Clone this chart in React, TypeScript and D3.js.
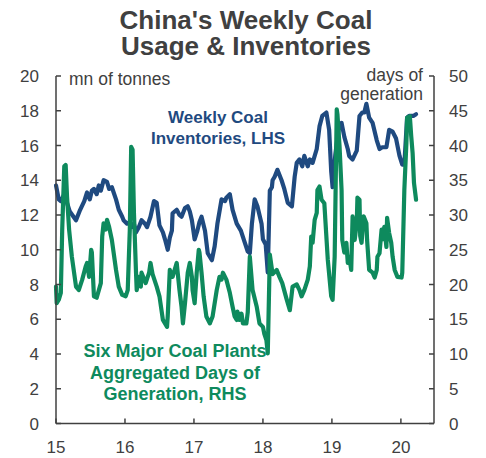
import React from "react";
import * as d3 from "d3";

const invDates = [2015.00,2015.04,2015.07,2015.12,2015.20,2015.29,2015.35,2015.41,2015.45,2015.49,2015.52,2015.55,2015.59,2015.62,2015.65,2015.69,2015.74,2015.77,2015.81,2015.87,2015.91,2015.96,2015.98,2016.03,2016.07,2016.10,2016.13,2016.16,2016.20,2016.24,2016.29,2016.32,2016.37,2016.42,2016.46,2016.50,2016.55,2016.58,2016.62,2016.65,2016.68,2016.69,2016.75,2016.79,2016.82,2016.87,2016.91,2016.94,2016.97,2017.01,2017.05,2017.08,2017.11,2017.16,2017.20,2017.26,2017.30,2017.34,2017.40,2017.45,2017.47,2017.52,2017.56,2017.62,2017.68,2017.73,2017.78,2017.81,2017.84,2017.88,2017.92,2017.98,2018.00,2018.04,2018.07,2018.10,2018.13,2018.14,2018.17,2018.21,2018.27,2018.31,2018.36,2018.42,2018.46,2018.49,2018.53,2018.57,2018.60,2018.65,2018.68,2018.72,2018.78,2018.82,2018.86,2018.92,2018.96,2018.99,2019.01,2019.05,2019.10,2019.14,2019.18,2019.23,2019.25,2019.30,2019.36,2019.40,2019.44,2019.47,2019.50,2019.54,2019.59,2019.65,2019.69,2019.73,2019.79,2019.83,2019.88,2019.93,2019.98,2020.02,2020.05,2020.09,2020.12,2020.18,2020.22];
const invValues = [13.7,12.9,12.8,13.2,12.2,11.7,12.3,12.8,13.3,12.9,13.4,13.5,13.2,13.7,13.4,14.0,13.9,13.5,13.6,12.9,12.3,11.9,11.7,11.5,11.6,11.3,11.5,11.0,11.3,11.7,11.5,11.3,11.9,12.8,12.7,11.4,11.0,10.6,10.0,10.7,11.1,12.1,12.3,12.0,11.9,12.4,12.5,12.2,11.7,10.6,11.1,11.6,11.9,11.1,9.8,9.4,10.2,11.5,12.9,12.8,13.0,13.2,12.3,11.5,11.1,10.5,9.9,9.8,11.5,12.9,12.5,11.5,10.6,10.3,8.7,13.4,13.6,14.0,14.2,14.6,14.0,13.5,12.7,12.5,14.2,15.0,15.2,14.8,15.4,14.8,15.2,15.0,15.8,17.1,17.7,17.9,16.9,14.5,13.6,15.5,17.0,17.3,16.5,15.8,15.4,15.2,15.7,17.7,17.9,17.9,18.4,17.6,17.3,16.3,15.8,15.9,15.9,16.9,16.8,16.4,15.4,14.9,14.9,17.6,17.7,17.7,17.8];

const daysDates = [2015.00,2015.01,2015.04,2015.07,2015.09,2015.12,2015.14,2015.16,2015.19,2015.23,2015.29,2015.33,2015.38,2015.43,2015.45,2015.48,2015.51,2015.52,2015.55,2015.59,2015.65,2015.67,2015.69,2015.72,2015.74,2015.77,2015.81,2015.87,2015.91,2015.96,2016.01,2016.04,2016.07,2016.09,2016.11,2016.13,2016.16,2016.17,2016.20,2016.23,2016.24,2016.30,2016.35,2016.37,2016.40,2016.46,2016.50,2016.55,2016.61,2016.62,2016.65,2016.69,2016.75,2016.79,2016.82,2016.84,2016.87,2016.91,2016.94,2016.97,2016.98,2017.01,2017.04,2017.07,2017.08,2017.11,2017.14,2017.18,2017.23,2017.27,2017.33,2017.37,2017.40,2017.42,2017.47,2017.52,2017.56,2017.59,2017.62,2017.63,2017.66,2017.69,2017.71,2017.76,2017.78,2017.81,2017.85,2017.91,2017.95,2018.00,2018.02,2018.05,2018.07,2018.10,2018.14,2018.20,2018.24,2018.28,2018.34,2018.39,2018.43,2018.49,2018.53,2018.56,2018.60,2018.65,2018.68,2018.70,2018.72,2018.75,2018.78,2018.79,2018.82,2018.85,2018.89,2018.94,2018.99,2019.01,2019.04,2019.07,2019.08,2019.11,2019.14,2019.15,2019.18,2019.21,2019.23,2019.25,2019.28,2019.30,2019.33,2019.36,2019.37,2019.40,2019.41,2019.43,2019.46,2019.50,2019.51,2019.54,2019.59,2019.62,2019.65,2019.66,2019.69,2019.72,2019.73,2019.76,2019.79,2019.80,2019.83,2019.86,2019.88,2019.91,2019.95,2020.01,2020.02,2020.05,2020.08,2020.09,2020.13,2020.15,2020.17,2020.19,2020.22];
const daysValues = [19.7,17.3,17.8,18.8,27.9,37.0,37.2,32.6,27.9,24.0,19.7,19.2,20.7,22.6,23.1,21.1,25.0,24.6,18.3,18.1,20.2,26.9,28.8,27.9,29.3,28.3,26.4,22.1,19.7,18.5,18.3,19.2,27.9,39.8,39.4,30.3,21.7,19.2,21.1,19.7,21.7,20.2,21.7,23.1,21.5,19.7,18.3,14.9,13.9,15.5,22.1,21.1,23.1,19.2,16.8,14.4,17.3,21.7,23.1,21.1,19.2,17.3,21.7,25.0,24.6,21.7,18.3,15.4,14.4,15.4,19.2,21.1,20.7,21.7,20.7,18.8,16.8,15.4,14.9,16.1,14.9,15.8,14.4,14.4,16.0,24.0,19.2,16.8,14.4,13.9,12.9,12.0,10.1,24.3,21.5,22.1,21.1,20.2,18.0,16.3,19.7,20.0,19.2,18.3,19.2,20.7,22.6,26.9,26.0,29.3,30.3,33.6,34.1,32.2,31.7,23.6,18.3,17.8,24.0,45.2,44.5,40.0,33.6,26.4,24.6,26.0,23.1,24.0,22.1,29.8,26.4,28.8,32.5,32.2,27.0,26.0,29.8,28.8,26.4,22.1,21.7,21.0,22.1,24.0,24.5,27.9,26.5,28.3,25.4,29.6,27.4,26.0,24.0,22.1,21.1,21.0,21.7,33.6,40.4,44.0,44.2,41.3,38.9,34.6,32.2];

const xTicks = [2015, 2016, 2017, 2018, 2019, 2020];
const xTickLabels = ["15", "16", "17", "18", "19", "20"];
const leftTicks = [0, 2, 4, 6, 8, 10, 12, 14, 16, 18, 20];
const rightTicks = [0, 5, 10, 15, 20, 25, 30, 35, 40, 45, 50];
const titleLines = ["China's Weekly Coal", "Usage & Inventories"];
const invLabel = ["Weekly Coal", "Inventories, LHS"];
const daysLabel = ["Six Major Coal Plants", "Aggregated Days of", "Generation, RHS"];

const W = 486, H = 458;
const L = 56, R = 434, T = 76, B = 423.5;
const BLUE = "#1f4a80";
const GREEN = "#0e8a5d";
const GREY = "#404040";
const FONT = "'Liberation Sans', Arial, sans-serif";

export default function App() {
  const x = d3.scaleLinear().domain([2015, 2020.48]).range([L, R]);
  const yL = d3.scaleLinear().domain([0, 20]).range([B, T]);
  const yR = d3.scaleLinear().domain([0, 50]).range([B, T]);

  const invLine = d3.line<number>().x((_, i) => x(invDates[i])).y((d) => yL(d)).curve(d3.curveLinear);
  const daysLine = d3.line<number>().x((_, i) => x(daysDates[i])).y((d) => yR(d)).curve(d3.curveLinear);

  return (
    <svg width={W} height={H} style={{ position: "absolute", left: 0, top: 0, background: "#fff" }} fontFamily={FONT}>
      {titleLines.map((t, i) => (
        <text key={t} x={246} y={29 + i * 26} textAnchor="middle" fontSize={26} fontWeight="bold" fill={GREY}>{t}</text>
      ))}

      <path d={invLine(invValues) || ""} fill="none" stroke={BLUE} strokeWidth={4.2} strokeLinejoin="round" strokeLinecap="round" />
      <path d={daysLine(daysValues) || ""} fill="none" stroke={GREEN} strokeWidth={4.2} strokeLinejoin="round" strokeLinecap="round" />

      <g stroke={GREY} strokeWidth={1.5} fill="none">
        <line x1={L} y1={T} x2={L} y2={B} />
        <line x1={R} y1={T} x2={R} y2={B} />
        <line x1={L} y1={B} x2={R} y2={B} />
        {leftTicks.map((v) => (
          <line key={"l" + v} x1={L} x2={L + 5} y1={yL(v)} y2={yL(v)} />
        ))}
        {rightTicks.map((v) => (
          <line key={"r" + v} x1={R - 5} x2={R} y1={yR(v)} y2={yR(v)} />
        ))}
        {xTicks.map((v) => (
          <line key={"x" + v} x1={x(v)} x2={x(v)} y1={B} y2={B - 5} />
        ))}
      </g>

      <g fontSize={17} fill={GREY}>
        {leftTicks.map((v) => (
          <text key={"lt" + v} x={39} y={yL(v) + 6} textAnchor="end">{v}</text>
        ))}
        {rightTicks.map((v) => (
          <text key={"rt" + v} x={449} y={yR(v) + 6} textAnchor="start">{v}</text>
        ))}
        {xTicks.map((v, i) => (
          <text key={"xt" + v} x={x(v)} y={453} textAnchor="middle">{xTickLabels[i]}</text>
        ))}
        <text x={69} y={85} fontSize={17.5}>mn of tonnes</text>
        <text x={423} y={81} textAnchor="end" fontSize={17.5}>days of</text>
        <text x={423} y={100} textAnchor="end" fontSize={17.5}>generation</text>
      </g>

      {invLabel.map((t, i) => (
        <text key={t} x={218} y={123 + i * 21} textAnchor="middle" fontSize={17} fontWeight="bold" fill={BLUE}>{t}</text>
      ))}
      {daysLabel.map((t, i) => (
        <text key={t} x={175} y={357 + i * 21.5} textAnchor="middle" fontSize={18} fontWeight="bold" fill={GREEN}>{t}</text>
      ))}
    </svg>
  );
}
